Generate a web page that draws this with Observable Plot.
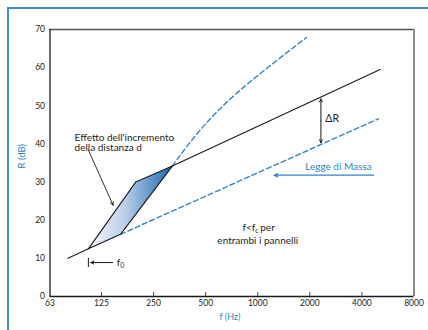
<!DOCTYPE html>
<html><head><meta charset="utf-8">
<script src="https://cdn.jsdelivr.net/npm/d3@7"></script>
<script src="https://cdn.jsdelivr.net/npm/@observablehq/plot@0.6"></script>
<style>
html,body{margin:0;padding:0;background:#fff;}
#wrap{position:relative;width:428px;height:330px;overflow:hidden;background:#fff;}
#border{position:absolute;left:7px;top:7px;right:0;bottom:0;border-left:2px solid #3a8dd0;border-top:2px solid #3a8dd0;pointer-events:none;}
svg{display:block}
</style></head><body>
<div id="wrap"><div id="chart"></div><div id="border"></div></div>
<script>
// ---- tick values ----
const freqTicks = [63, 125, 250, 500, 1000, 2000, 4000, 8000];
const dbTicks = [0, 10, 20, 30, 40, 50, 60, 70];

// ---- series ----
// solid black, below the resonance region
const lowF = [80, 105];
const lowR = [10, 12.5];
// shaded region (effect of increasing the distance d)
const polyF = [105, 197, 321, 161, 105];
const polyR = [12.5, 30, 34.2, 16.3, 12.5];
// solid black, double wall
const highF = [321, 5100];
const highR = [34.2, 59.5];
// mass law (dashed)
const massF = [161, 4980];
const massR = [16.3, 46.6];
// upper dashed curve
const curveF = [321, 411, 537, 702, 980, 1911];
const curveR = [34.2, 40.7, 46.8, 52.0, 57.6, 67.9];

// ---- annotations ----
const effettoLabel = ["Effetto dell'incremento\ndella distanza d"];
const effettoPos = {f: 87.4, r: 40.4};
const effettoArrow = {f1: 105, r1: 38.4, f2: 146, r2: 23.9};
const deltaLabel = ["ΔR"];
const deltaPos = {f: 2459, r: 46.6};
const deltaArrow = {f: 2318, rTop: 51.8, rBottom: 40.3, rMid: 46.0};
const massLabel = ["Legge di Massa"];
const massLabelPos = {f: 4555, r: 33.9};
const massArrow = {f1: 4677, f2: 1244, r: 31.8};
const f0Label = ["f", "0"];
const f0Bar = {f: 105, r1: 7.6, r2: 10};
const f0Arrow = {f1: 145, f2: 108.5, r: 8.9};
const f0Pos = {f: 153, r: 8.9};
const fcLabel = ["f<f", "c", "per", "entrambi i pannelli"];
const fcPos = {f: 1000, r1: 17.9, r2: 14.5};
const xLabel = ["f (Hz)"];
const yLabel = ["R (dB)"];

const blue = "#2f86c8";
const ink = "#231f20";
const pts = (f, r) => f.map((v, i) => ({f: v, r: r[i]}));

const svg = Plot.plot({
  width: 428, height: 330,
  marginLeft: 49.5, marginRight: 14.5, marginTop: 29, marginBottom: 34,
  style: {fontFamily: "Lato, 'Open Sans', sans-serif", fontSize: "8.5px", background: "transparent", color: ink},
  x: {type: "log", domain: [63, 8000], axis: null},
  y: {domain: [0, 70]},
  marks: [
    Plot.axisY(dbTicks, {tickSize: 0, tickPadding: 5, label: null}),
    Plot.ruleY([70], {stroke: "#555", strokeWidth: 1.3}),
    Plot.ruleX([8000], {stroke: "#8c8c8c", strokeWidth: 2}),
    Plot.ruleX([63], {stroke: "#1a1a1a", strokeWidth: 1.3}),
    Plot.ruleY([0], {stroke: "#1a1a1a", strokeWidth: 1.3}),
    Plot.tickX(freqTicks.slice(1, -1), {x: d => d, insetTop: 263, stroke: "#444"}),
    // x tick labels (log axis: every nominal octave band shown)
    Plot.text(freqTicks, {x: d => d, frameAnchor: "bottom", text: d => String(d), lineAnchor: "top", dy: 3, fontSize: 8.5, fill: ink}),

    Plot.line(pts(massF, massR), {x: "f", y: "r", stroke: blue, strokeWidth: 1.4, strokeDasharray: "5,3"}),
    Plot.line(pts(curveF, curveR), {x: "f", y: "r", stroke: blue, strokeWidth: 1.4, strokeDasharray: "5,3", curve: "catmull-rom"}),
    Plot.line(pts(polyF, polyR), {x: "f", y: "r", fill: "url(#gradPoly)", stroke: "#1a1a1a", strokeWidth: 1.1}),
    Plot.line(pts(lowF, lowR), {x: "f", y: "r", stroke: "#1a1a1a", strokeWidth: 1.1}),
    Plot.line(pts(highF, highR), {x: "f", y: "r", stroke: "#1a1a1a", strokeWidth: 1.1}),

    // Effetto annotation
    Plot.text(effettoLabel, {x: () => effettoPos.f, y: () => effettoPos.r, text: d => d, textAnchor: "start", fontSize: 10, lineHeight: 1.05, fill: ink}),
    Plot.arrow([effettoArrow], {x1: "f1", y1: "r1", x2: "f2", y2: "r2", stroke: "#1a1a1a", strokeWidth: 0.9, headLength: 6, headAngle: 50}),

    // Delta R
    Plot.arrow([deltaArrow], {x1: "f", x2: "f", y1: "rMid", y2: "rTop", stroke: "#1a1a1a", strokeWidth: 1, headLength: 5, headAngle: 50}),
    Plot.arrow([deltaArrow], {x1: "f", x2: "f", y1: "rMid", y2: "rBottom", stroke: "#1a1a1a", strokeWidth: 1, headLength: 5, headAngle: 50}),
    Plot.text(deltaLabel, {x: () => deltaPos.f, y: () => deltaPos.r, text: d => d, textAnchor: "start", fontSize: 10.5, fill: ink}),

    // Legge di Massa
    Plot.text(massLabel, {x: () => massLabelPos.f, y: () => massLabelPos.r, text: d => d, textAnchor: "end", fontSize: 10, fill: blue}),
    Plot.arrow([massArrow], {x1: "f1", x2: "f2", y1: "r", y2: "r", stroke: blue, strokeWidth: 1.2, headLength: 5, headAngle: 50}),

    // f0
    Plot.ruleX([f0Bar], {x: "f", y1: "r1", y2: "r2", stroke: "#1a1a1a", strokeWidth: 1}),
    Plot.arrow([f0Arrow], {x1: "f1", x2: "f2", y1: "r", y2: "r", stroke: "#1a1a1a", strokeWidth: 1, headLength: 5, headAngle: 50}),
    Plot.text([f0Label[0]], {x: () => f0Pos.f, y: () => f0Pos.r, text: d => d, textAnchor: "start", fontSize: 10, fill: ink}),
    Plot.text([f0Label[1]], {x: () => f0Pos.f, y: () => f0Pos.r, text: d => d, textAnchor: "start", dx: 3.5, dy: 3.5, fontSize: 7, fill: ink}),

    // f<fc per entrambi i pannelli
    Plot.text([fcLabel[0]], {x: () => fcPos.f, y: () => fcPos.r1, text: d => d, textAnchor: "end", dx: -2.5, fontSize: 10, fill: ink}),
    Plot.text([fcLabel[1]], {x: () => fcPos.f, y: () => fcPos.r1, text: d => d, textAnchor: "start", dx: -2.5, dy: 3, fontSize: 7, fill: ink}),
    Plot.text([fcLabel[2]], {x: () => fcPos.f, y: () => fcPos.r1, text: d => d, textAnchor: "start", dx: 2.5, fontSize: 10, fill: ink}),
    Plot.text([fcLabel[3]], {x: () => fcPos.f, y: () => fcPos.r2, text: d => d, textAnchor: "middle", fontSize: 10, fill: ink}),

    // axis titles
    Plot.text(yLabel, {frameAnchor: "left", text: d => d, rotate: -90, dx: -28, dy: 5.5, fontSize: 9.5, fill: blue}),
    Plot.text(xLabel, {frameAnchor: "bottom", text: d => d, dx: -2, dy: 23, fontSize: 9, fill: blue})
  ]
});

const defs = d3.select(svg).insert("defs", ":first-child");
const grad = defs.append("linearGradient").attr("id", "gradPoly")
  .attr("x1", "0").attr("y1", "0").attr("x2", "1").attr("y2", "0");
grad.append("stop").attr("offset", "0%").attr("stop-color", "#f7f9fd");
grad.append("stop").attr("offset", "45%").attr("stop-color", "#b7cce7");
grad.append("stop").attr("offset", "100%").attr("stop-color", "#1a67b0");

document.getElementById("chart").appendChild(svg);

// safeguard: make sure every octave tick label is present (positioned via Plot's x scale)
const xs = svg.scale("x");
const present = new Set(Array.from(svg.querySelectorAll("text")).map(t => t.textContent));
freqTicks.forEach(v => {
  if (!present.has(String(v))) {
    d3.select(svg).append("text")
      .attr("x", xs.apply(v)).attr("y", 296 + 3).attr("dy", "0.71em")
      .attr("text-anchor", "middle").attr("fill", ink)
      .attr("font-family", "Lato, 'Open Sans', sans-serif").attr("font-size", 8.5)
      .text(String(v));
  }
});
</script>
</body></html>
